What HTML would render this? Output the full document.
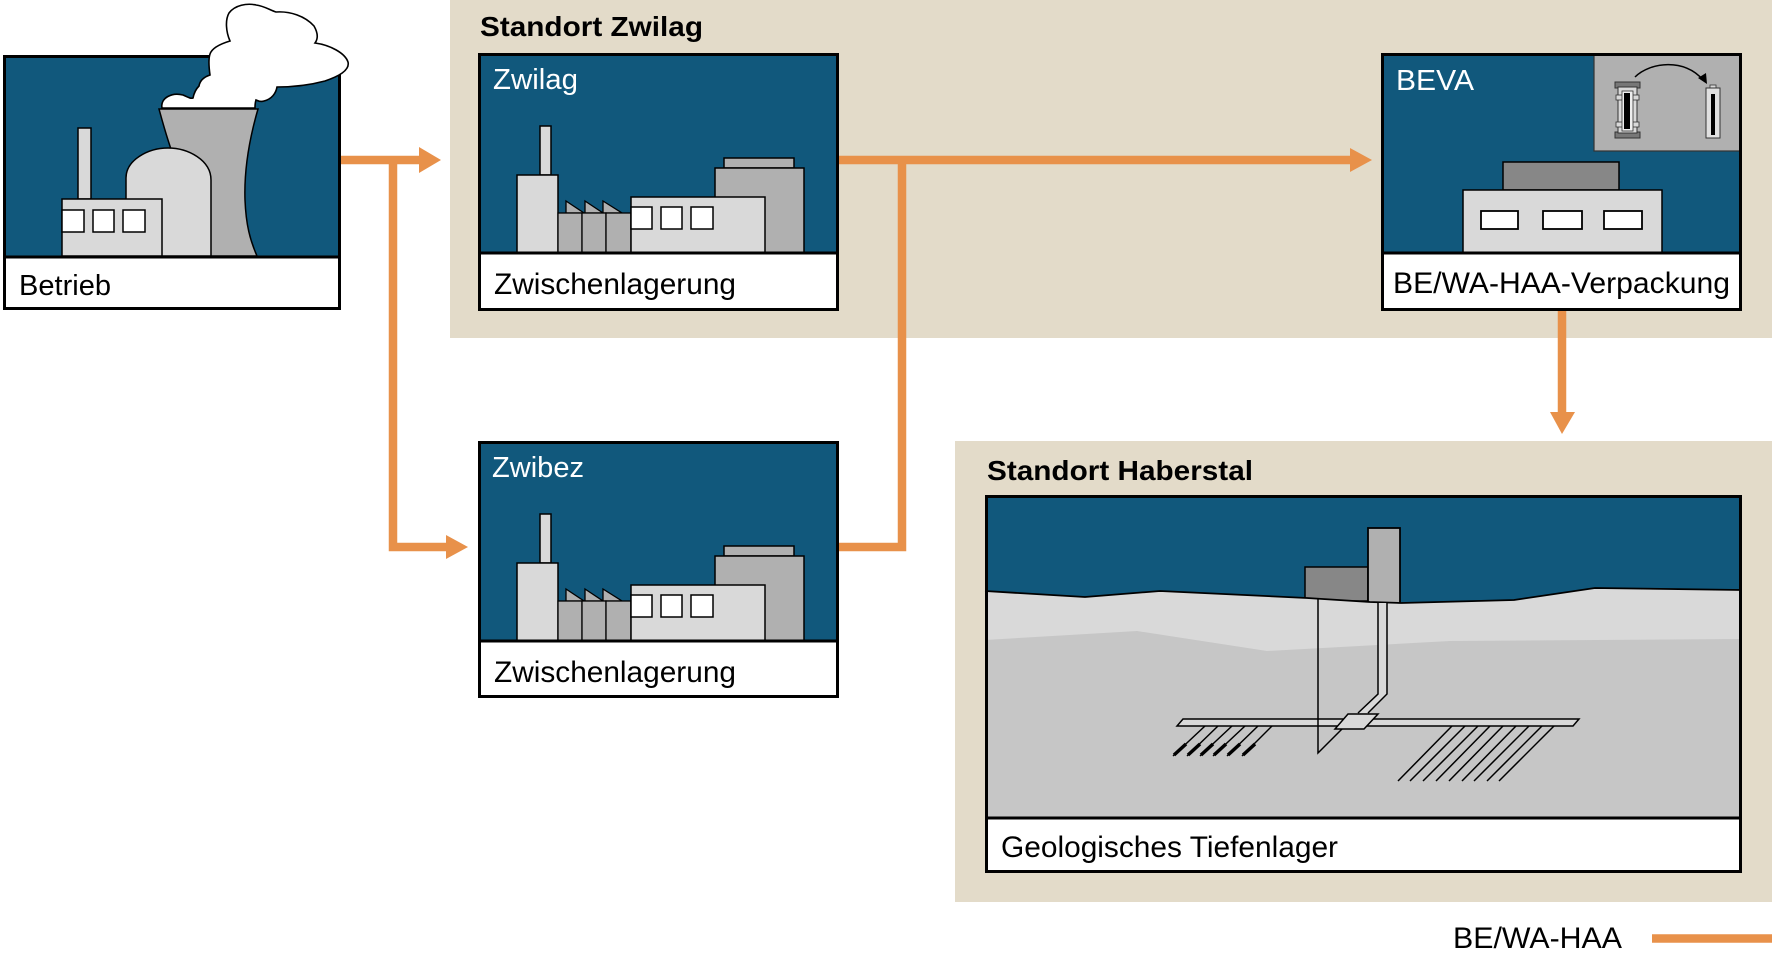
<!DOCTYPE html>
<html>
<head>
<meta charset="utf-8">
<style>
  html,body{margin:0;padding:0;background:#fff;}
  svg{display:block;}
  text{font-family:"Liberation Sans", Arial, sans-serif;}
</style>
</head>
<body>
<svg xmlns="http://www.w3.org/2000/svg" width="1772" height="957" viewBox="0 0 1772 957">
  <defs>
    <g id="factory">
      <!-- chimney -->
      <rect x="540" y="126" width="11" height="49" fill="#d9d9d9" stroke="#000" stroke-width="1.5"/>
      <!-- tall block -->
      <rect x="517" y="175" width="41" height="78" fill="#d9d9d9" stroke="#000" stroke-width="1.5"/>
      <!-- sawtooth -->
      <polygon points="566,201 584,213 566,213" fill="#b0b0b0" stroke="#000" stroke-width="1.3"/>
      <polygon points="585,201 603,213 585,213" fill="#b0b0b0" stroke="#000" stroke-width="1.3"/>
      <polygon points="603,201 622,213 603,213" fill="#b0b0b0" stroke="#000" stroke-width="1.3"/>
      <rect x="558" y="213" width="24" height="40" fill="#b0b0b0" stroke="#000" stroke-width="1.3"/>
      <rect x="582" y="213" width="24" height="40" fill="#b0b0b0" stroke="#000" stroke-width="1.3"/>
      <rect x="606" y="213" width="25" height="40" fill="#b0b0b0" stroke="#000" stroke-width="1.3"/>
      <!-- right tall -->
      <rect x="724" y="158" width="70" height="10" fill="#b0b0b0" stroke="#000" stroke-width="1.5"/>
      <rect x="715" y="168" width="89" height="85" fill="#b0b0b0" stroke="#000" stroke-width="1.5"/>
      <!-- middle -->
      <rect x="631" y="197" width="134" height="56" fill="#d9d9d9" stroke="#000" stroke-width="1.5"/>
      <rect x="631" y="207" width="21" height="22" fill="#fff" stroke="#000" stroke-width="1.5"/>
      <rect x="661" y="207" width="21" height="22" fill="#fff" stroke="#000" stroke-width="1.5"/>
      <rect x="691" y="207" width="22" height="22" fill="#fff" stroke="#000" stroke-width="1.5"/>
    </g>
  </defs>

  <!-- Beige panels -->
  <rect x="450" y="0" width="1322" height="338" fill="#e3dbc9"/>
  <rect x="955" y="441" width="817" height="461" fill="#e3dbc9"/>

  <!-- ===== Betrieb ===== -->
  <rect x="3" y="55" width="338" height="202" fill="#11587c"/>
  <!-- cooling tower -->
  <path d="M159,109 L258,109 C249,140 244,170 245,200 C246,225 250,240 257,256 L200,256 L172,152 C166,135 162,120 159,109 Z" fill="#b0b0b0" stroke="#000" stroke-width="1.5"/>
  <!-- dome -->
  <path d="M126,256 L126,178 C126,160 148,148 168,148 C188,148 211,160 211,180 L211,256 Z" fill="#d9d9d9" stroke="#000" stroke-width="1.5"/>
  <!-- chimney -->
  <rect x="78" y="128" width="13" height="71" fill="#d9d9d9" stroke="#000" stroke-width="1.5"/>
  <!-- low building -->
  <rect x="62" y="199" width="100" height="57" fill="#d9d9d9" stroke="#000" stroke-width="1.5"/>
  <rect x="62" y="210" width="22" height="22" fill="#fff" stroke="#000" stroke-width="1.5"/>
  <rect x="93" y="210" width="21" height="22" fill="#fff" stroke="#000" stroke-width="1.5"/>
  <rect x="123" y="210" width="22" height="22" fill="#fff" stroke="#000" stroke-width="1.5"/>
  <rect x="3" y="257" width="338" height="53" fill="#fff"/>
  <line x1="3" y1="257" x2="341" y2="257" stroke="#000" stroke-width="3"/>
  <rect x="4.5" y="56.5" width="335" height="252" fill="none" stroke="#000" stroke-width="3"/>
  <!-- cloud -->
  <path d="M162,108 C160,98 172,92 183,95 C188,97 190,99 193,98 C194,93 196,89 199,86 C200,80 204,77 210,75 C209,68 208,60 210,54 C212,48 220,44 230,41 C226,32 225,20 229,13 C235,5 247,3 256,5 C264,6 270,10 276,12 C290,11 305,16 314,26 C318,33 318,39 315,43 C330,45 345,53 348,62 C350,70 340,76 325,81 C310,85 292,87 277,87 C276,93 272,99 264,101 C261,102 258,101 256,100 C255,103 255,106 255,108 Z" fill="#fff" stroke="#000" stroke-width="1.6"/>
  <text x="19" y="295" font-size="29" fill="#000" textLength="92" lengthAdjust="spacingAndGlyphs">Betrieb</text>

  <!-- ===== Standort Zwilag ===== -->
  <text x="480" y="36" font-size="28" font-weight="bold" fill="#000" textLength="223" lengthAdjust="spacingAndGlyphs">Standort Zwilag</text>

  <!-- Zwilag box -->
  <rect x="478" y="53" width="361" height="200" fill="#11587c"/>
  <use href="#factory"/>
  <rect x="478" y="253" width="361" height="58" fill="#fff"/>
  <line x1="478" y1="253" x2="839" y2="253" stroke="#000" stroke-width="3"/>
  <rect x="479.5" y="54.5" width="358" height="255" fill="none" stroke="#000" stroke-width="3"/>
  <text x="493" y="89" font-size="29" fill="#fff" textLength="85" lengthAdjust="spacingAndGlyphs">Zwilag</text>
  <text x="494" y="294" font-size="30" fill="#000" textLength="242" lengthAdjust="spacingAndGlyphs">Zwischenlagerung</text>

  <!-- Zwibez box -->
  <rect x="478" y="441" width="361" height="200" fill="#11587c"/>
  <use href="#factory" transform="translate(0,388)"/>
  <rect x="478" y="641" width="361" height="57" fill="#fff"/>
  <line x1="478" y1="641" x2="839" y2="641" stroke="#000" stroke-width="3"/>
  <rect x="479.5" y="442.5" width="358" height="254" fill="none" stroke="#000" stroke-width="3"/>
  <text x="492" y="477" font-size="29" fill="#fff" textLength="92" lengthAdjust="spacingAndGlyphs">Zwibez</text>
  <text x="494" y="682" font-size="30" fill="#000" textLength="242" lengthAdjust="spacingAndGlyphs">Zwischenlagerung</text>

  <!-- BEVA box -->
  <rect x="1381" y="53" width="361" height="200" fill="#11587c"/>
  <rect x="1594" y="55" width="146" height="96" fill="#b0b0b0" stroke="#333" stroke-width="1.2"/>
  <!-- left cask -->
  <rect x="1615" y="82" width="25" height="6" fill="#777" stroke="#333" stroke-width="1"/>
  <rect x="1615" y="132" width="25" height="6" fill="#777" stroke="#333" stroke-width="1"/>
  <rect x="1618" y="87" width="19" height="46" fill="#d9d9d9" stroke="#333" stroke-width="1"/>
  <rect x="1616" y="95" width="23" height="5" fill="#d9d9d9" stroke="#333" stroke-width="0.8"/>
  <rect x="1616" y="122" width="23" height="5" fill="#d9d9d9" stroke="#333" stroke-width="0.8"/>
  <rect x="1622" y="91" width="11" height="40" fill="#eee" stroke="#333" stroke-width="0.8"/>
  <rect x="1624" y="93" width="6" height="36" fill="#000"/>
  <!-- right cask -->
  <rect x="1710" y="85" width="6" height="4" fill="#d9d9d9" stroke="#333" stroke-width="0.8"/>
  <rect x="1706" y="88" width="14" height="50" fill="#e0e0e0" stroke="#333" stroke-width="1"/>
  <rect x="1711" y="94" width="4" height="41" fill="#000"/>
  <!-- arc arrow -->
  <path d="M1635,77 C1650,62 1685,58 1703,80" fill="none" stroke="#000" stroke-width="1.5"/>
  <polygon points="1698,78 1707,84 1706,73" fill="#000"/>
  <!-- building -->
  <rect x="1503" y="162" width="116" height="28" fill="#878787" stroke="#000" stroke-width="1.5"/>
  <rect x="1463" y="190" width="199" height="63" fill="#d9d9d9" stroke="#000" stroke-width="1.5"/>
  <rect x="1481" y="211" width="37" height="18" fill="#fff" stroke="#000" stroke-width="1.8"/>
  <rect x="1543" y="211" width="39" height="18" fill="#fff" stroke="#000" stroke-width="1.8"/>
  <rect x="1604" y="211" width="38" height="18" fill="#fff" stroke="#000" stroke-width="1.8"/>
  <rect x="1381" y="253" width="361" height="58" fill="#fff"/>
  <line x1="1381" y1="253" x2="1742" y2="253" stroke="#000" stroke-width="3"/>
  <rect x="1382.5" y="54.5" width="358" height="255" fill="none" stroke="#000" stroke-width="3"/>
  <text x="1396" y="90" font-size="29" fill="#fff" textLength="78" lengthAdjust="spacingAndGlyphs">BEVA</text>
  <text x="1393" y="293" font-size="30" fill="#000" textLength="337" lengthAdjust="spacingAndGlyphs">BE/WA-HAA-Verpackung</text>

  <!-- ===== Standort Haberstal ===== -->
  <text x="987" y="480" font-size="28" font-weight="bold" fill="#000" textLength="266" lengthAdjust="spacingAndGlyphs">Standort Haberstal</text>
  <rect x="985" y="495" width="757" height="323" fill="#11587c"/>
  <!-- facility -->
  <rect x="1305" y="567" width="63" height="34" fill="#878787" stroke="#000" stroke-width="1.5"/>
  <rect x="1368" y="528" width="32" height="76" fill="#b0b0b0" stroke="#000" stroke-width="1.8"/>
  <!-- ground upper layer -->
  <polygon points="985,591 1085,597 1160,591 1307,598 1370,602 1401,603 1514,600 1595,588 1742,590 1742,818 985,818" fill="#d9d9d9"/>
  <!-- lower layer -->
  <polygon points="985,640 1137,631 1267,651 1450,641 1742,639 1742,818 985,818" fill="#c6c6c6"/>
  <polyline points="985,591 1085,597 1160,591 1307,598 1370,602 1401,603 1514,600 1595,588 1742,590" fill="none" stroke="#000" stroke-width="1.8"/>
  <!-- shafts -->
  <polygon points="1378,603 1387,603 1387,694 1368,713 1358,713 1378,694" fill="#d9d9d9"/>
  <polyline points="1318,598 1318,753 1343,728" fill="none" stroke="#000" stroke-width="1.5"/>
  <polyline points="1378,603 1378,694 1358,713" fill="none" stroke="#000" stroke-width="1.5"/>
  <polyline points="1387,603 1387,694 1368,713" fill="none" stroke="#000" stroke-width="1.5"/>
  <!-- tunnel -->
  <polygon points="1183,719 1579,719 1573,726 1177,726" fill="#d9d9d9" stroke="#000" stroke-width="1.5"/>
  <polygon points="1348,714 1378,714 1364,729 1335,729" fill="#d9d9d9" stroke="#000" stroke-width="1.5"/>
  <line x1="1318" y1="719" x2="1318" y2="726" stroke="#000" stroke-width="1.5"/>
  <!-- left emplacement -->
  <g stroke="#000" stroke-width="1.5">
    <line x1="1205" y1="726" x2="1173" y2="756"/>
    <line x1="1218" y1="726" x2="1187" y2="756"/>
    <line x1="1232" y1="726" x2="1200" y2="756"/>
    <line x1="1245" y1="726" x2="1213" y2="756"/>
    <line x1="1258" y1="726" x2="1227" y2="756"/>
    <line x1="1272" y1="726" x2="1242" y2="756"/>
  </g>
  <g stroke="#000" stroke-width="3.5" stroke-linecap="butt">
    <line x1="1186" y1="744" x2="1174" y2="755"/>
    <line x1="1200" y1="744" x2="1188" y2="755"/>
    <line x1="1213" y1="744" x2="1201" y2="755"/>
    <line x1="1226" y1="744" x2="1214" y2="755"/>
    <line x1="1240" y1="744" x2="1228" y2="755"/>
    <line x1="1255" y1="744" x2="1243" y2="755"/>
  </g>
  <!-- right emplacement -->
  <g stroke="#000" stroke-width="1.5">
    <line x1="1452" y1="726" x2="1398" y2="781"/>
    <line x1="1465" y1="726" x2="1410" y2="781"/>
    <line x1="1478" y1="726" x2="1423" y2="781"/>
    <line x1="1490" y1="726" x2="1436" y2="781"/>
    <line x1="1503" y1="726" x2="1449" y2="781"/>
    <line x1="1516" y1="726" x2="1462" y2="781"/>
    <line x1="1529" y1="726" x2="1474" y2="781"/>
    <line x1="1542" y1="726" x2="1487" y2="781"/>
    <line x1="1554" y1="726" x2="1499" y2="781"/>
  </g>
  <rect x="985" y="818" width="757" height="55" fill="#fff"/>
  <line x1="985" y1="818" x2="1742" y2="818" stroke="#000" stroke-width="3"/>
  <rect x="986.5" y="496.5" width="754" height="375" fill="none" stroke="#000" stroke-width="3"/>
  <text x="1001" y="857" font-size="30" fill="#000" textLength="337" lengthAdjust="spacingAndGlyphs">Geologisches Tiefenlager</text>

  <!-- ===== Orange connectors ===== -->
  <g fill="none" stroke="#e8914a" stroke-width="8.5">
    <line x1="341" y1="160" x2="421" y2="160"/>
    <polyline points="393,160 393,547 448,547"/>
    <line x1="839" y1="160" x2="1352" y2="160"/>
    <polyline points="839,547 902,547 902,160"/>
    <line x1="1562" y1="311" x2="1562" y2="414"/>
    <line x1="1652" y1="938.5" x2="1772" y2="938.5"/>
  </g>
  <g fill="#e8914a">
    <polygon points="419,147 441,160 419,173"/>
    <polygon points="446,535 468,547 446,559"/>
    <polygon points="1350,148 1372,160 1350,172"/>
    <polygon points="1550,412 1575,412 1562,434"/>
  </g>

  <!-- Legend -->
  <text x="1453" y="948" font-size="30" fill="#000" textLength="169" lengthAdjust="spacingAndGlyphs">BE/WA-HAA</text>
</svg>
</body>
</html>
